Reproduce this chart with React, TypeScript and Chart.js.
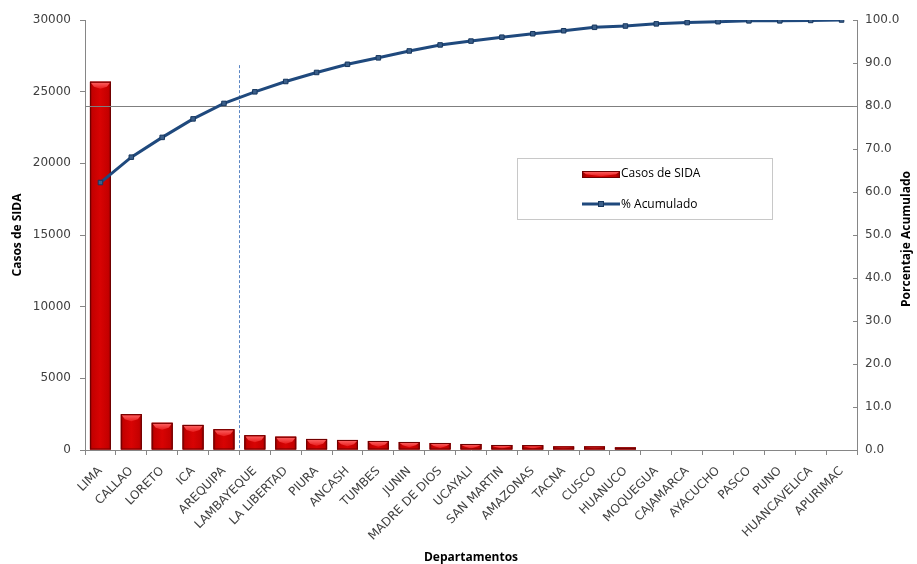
import React, { useEffect, useRef } from "react";
import { Chart, registerables } from "chart.js";

Chart.register(...registerables);

const departamentos = [
  "LIMA", "CALLAO", "LORETO", "ICA", "AREQUIPA", "LAMBAYEQUE", "LA LIBERTAD",
  "PIURA", "ANCASH", "TUMBES", "JUNIN", "MADRE DE DIOS", "UCAYALI", "SAN MARTIN",
  "AMAZONAS", "TACNA", "CUSCO", "HUANUCO", "MOQUEGUA", "CAJAMARCA", "AYACUCHO",
  "PASCO", "PUNO", "HUANCAVELICA", "APURIMAC",
];

const casosSida = [
  25700, 2500, 1900, 1750, 1450, 1030, 930, 770, 700, 630, 560, 490, 420,
  350, 340, 250, 250, 180, 0, 0, 0, 0, 0, 0, 0,
];

const porcentajeAcumulado = [
  62.2, 68.1, 72.7, 77.0, 80.6, 83.3, 85.7, 87.8, 89.7, 91.2, 92.8, 94.2, 95.1,
  96.0, 96.8, 97.5, 98.3, 98.6, 99.1, 99.4, 99.6, 99.8, 99.8, 99.9, 100.0,
];

const umbralPareto = 80; // % reference line
const corteIndice = 4.5; // dashed cut between AREQUIPA and LAMBAYEQUE
const corteTope = 89.5; // % height where the dashed line starts
const tituloDerecho = "Porcentaje Acumulado";

const BAR_RED = "#c80000";
const LINE_BLUE = "#1f497d";
const AXIS_GRAY = "#868686";

function paintBar(ctx: CanvasRenderingContext2D, left: number, top: number, w: number, h: number) {
  if (h <= 0 || w <= 0) return;
  const g = ctx.createLinearGradient(left, 0, left + w, 0);
  g.addColorStop(0, "#8a0000");
  g.addColorStop(0.12, "#c40000");
  g.addColorStop(0.5, "#d80303");
  g.addColorStop(0.88, "#c40000");
  g.addColorStop(1, "#8a0000");
  ctx.fillStyle = g;
  ctx.fillRect(left, top, w, h);
  // top bevel highlight
  const bh = Math.min(5, h * 0.45);
  const mid = Math.min(top + bh + 2, top + h - 1);
  const hg = ctx.createLinearGradient(0, top, 0, mid);
  hg.addColorStop(0, "#ff6a6a");
  hg.addColorStop(1, "#e81c1c");
  ctx.beginPath();
  ctx.moveTo(left + 1, top + 1);
  ctx.lineTo(left + w - 1, top + 1);
  ctx.lineTo(left + w - 4, top + bh);
  ctx.lineTo(left + w / 2, mid);
  ctx.lineTo(left + 4, top + bh);
  ctx.closePath();
  ctx.fillStyle = hg;
  ctx.fill();
  ctx.strokeStyle = "#6e0000";
  ctx.lineWidth = 1;
  ctx.strokeRect(left + 0.5, top + 0.5, w - 1, h - 1);
}

const paretoPlugin = {
  id: "paretoExtras",
  afterDatasetDraw(chart: any, args: any) {
    if (args.index !== 0) return;
    const ctx: CanvasRenderingContext2D = chart.ctx;
    const area = chart.chartArea;
    const meta = chart.getDatasetMeta(0);
    ctx.save();
    meta.data.forEach((el: any) => {
      const p = el.getProps(["x", "y", "base", "width"], true);
      const left = p.x - p.width / 2;
      const top = Math.min(p.y, p.base);
      const h = Math.abs(p.base - p.y);
      if (h >= 1) paintBar(ctx, left, top, p.width, h);
    });
    // 80% reference line
    const y1 = chart.scales.y1;
    const yy = Math.round(y1.getPixelForValue(umbralPareto)) + 0.5;
    ctx.strokeStyle = "#7f7f7f";
    ctx.lineWidth = 1;
    ctx.beginPath();
    ctx.moveTo(area.left, yy);
    ctx.lineTo(area.right, yy);
    ctx.stroke();
    // dashed cut line
    const xs = chart.scales.x;
    const xx = Math.round(xs.getPixelForValue(corteIndice)) + 0.5;
    ctx.strokeStyle = "#5a86c4";
    ctx.setLineDash([3, 2]);
    ctx.beginPath();
    ctx.moveTo(xx, y1.getPixelForValue(corteTope));
    ctx.lineTo(xx, area.bottom);
    ctx.stroke();
    ctx.restore();
  },
  afterDraw(chart: any) {
    const ctx: CanvasRenderingContext2D = chart.ctx;
    const area = chart.chartArea;
    const y1 = chart.scales.y1;
    ctx.save();
    // inward tick marks on right axis
    ctx.strokeStyle = AXIS_GRAY;
    ctx.lineWidth = 1;
    y1.ticks.forEach((t: any) => {
      const ty = Math.round(y1.getPixelForValue(t.value)) + 0.5;
      ctx.beginPath();
      ctx.moveTo(area.right - 4, ty);
      ctx.lineTo(area.right, ty);
      ctx.stroke();
    });
    // right axis title, reading bottom-to-top
    ctx.save();
    ctx.translate(907, (area.top + area.bottom) / 2 + 4);
    ctx.rotate(-Math.PI / 2);
    ctx.fillStyle = "#000000";
    ctx.font = "bold 12px 'Open Sans'";
    ctx.textAlign = "center";
    ctx.textBaseline = "middle";
    ctx.fillText(tituloDerecho, 0, 0);
    ctx.restore();
    // legend box
    const bx = 517, by = 158, bw = 255, bh = 61;
    ctx.fillStyle = "#ffffff";
    ctx.fillRect(bx, by, bw, bh);
    ctx.strokeStyle = "#c8c8c8";
    ctx.strokeRect(bx + 0.5, by + 0.5, bw, bh);
    const ds = chart.data.datasets;
    // bar sample
    paintBar(ctx, 582, 171, 38, 7);
    // line sample
    ctx.strokeStyle = LINE_BLUE;
    ctx.lineWidth = 3;
    ctx.beginPath();
    ctx.moveTo(582, 204);
    ctx.lineTo(620, 204);
    ctx.stroke();
    ctx.fillStyle = "#3b5f8a";
    ctx.fillRect(598, 201, 6, 6);
    ctx.lineWidth = 1;
    ctx.strokeStyle = "#17375e";
    ctx.strokeRect(598.5, 201.5, 5, 5);
    ctx.fillStyle = "#000000";
    ctx.font = "12px 'Open Sans'";
    ctx.textBaseline = "middle";
    ctx.textAlign = "left";
    ctx.fillText(ds[0].label, 621, 174);
    ctx.fillText(ds[1].label, 621, 205);
    ctx.restore();
  },
};

export default function App() {
  const canvasRef = useRef<HTMLCanvasElement | null>(null);

  useEffect(() => {
    const canvas = canvasRef.current;
    if (!canvas) return;
    const chart = new Chart(canvas, {
      type: "bar",
      data: {
        labels: departamentos,
        datasets: [
          {
            type: "bar",
            label: "Casos de SIDA",
            data: casosSida,
            backgroundColor: BAR_RED,
            borderWidth: 0,
            barPercentage: 0.68,
            categoryPercentage: 1,
            yAxisID: "y",
            order: 1,
          },
          {
            type: "line",
            label: "% Acumulado",
            data: porcentajeAcumulado,
            borderColor: LINE_BLUE,
            borderWidth: 3,
            pointStyle: "rect",
            pointRadius: 3.2,
            pointBackgroundColor: "#3b5f8a",
            pointBorderColor: "#17375e",
            pointBorderWidth: 1,
            tension: 0,
            yAxisID: "y1",
            order: 0,
          },
        ],
      },
      options: {
        animation: false,
        responsive: false,
        devicePixelRatio: 1,
        layout: { padding: { top: 20, left: 0, right: 0, bottom: 0 } },
        plugins: {
          legend: { display: false },
          tooltip: { enabled: false },
        },
        scales: {
          x: {
            offset: true,
            grid: {
              display: true,
              offset: true,
              drawOnChartArea: false,
              drawTicks: true,
              tickLength: 5,
              color: AXIS_GRAY,
            },
            border: { display: true, color: AXIS_GRAY },
            ticks: {
              autoSkip: false,
              maxRotation: 45,
              minRotation: 45,
              padding: 9,
              color: "#404040",
              font: { family: "DejaVu Sans", size: 12 },
            },
            title: {
              display: true,
              text: "Departamentos",
              color: "#000000",
              font: { family: "Open Sans", size: 12, weight: "bold", lineHeight: 1 },
              padding: { top: 0, bottom: 0 },
            },
            afterFit: (s: any) => { s.height = 114; },
          },
          y: {
            position: "left",
            min: 0,
            max: 30000,
            ticks: {
              stepSize: 5000,
              padding: 9,
              color: "#404040",
              font: { family: "DejaVu Sans", size: 12 },
              callback: (v: any) => String(v),
            },
            grid: {
              display: true,
              drawOnChartArea: false,
              tickLength: 5,
              color: AXIS_GRAY,
            },
            border: { display: true, color: AXIS_GRAY },
            title: {
              display: true,
              text: "Casos de SIDA",
              color: "#000000",
              font: { family: "Open Sans", size: 12, weight: "bold", lineHeight: 1 },
              padding: { top: 12, bottom: 0 },
            },
            afterFit: (s: any) => { s.width = 85; },
          },
          y1: {
            position: "right",
            min: 0,
            max: 100,
            ticks: {
              stepSize: 10,
              padding: 8,
              color: "#404040",
              font: { family: "DejaVu Sans", size: 12 },
              callback: (v: any) => Number(v).toFixed(1),
            },
            grid: {
              display: true,
              drawOnChartArea: false,
              drawTicks: false,
              tickLength: 0,
              color: AXIS_GRAY,
            },
            border: { display: true, color: AXIS_GRAY },
            title: { display: false },
            afterFit: (s: any) => { s.width = 60; },
          },
        },
      },
      plugins: [paretoPlugin],
    } as any);
    return () => chart.destroy();
  }, []);

  return (
    <div style={{ position: "absolute", left: 0, top: 0, width: 917, height: 564, background: "#ffffff" }}>
      <canvas ref={canvasRef} width={917} height={564} style={{ display: "block", width: 917, height: 564 }} />
    </div>
  );
}
